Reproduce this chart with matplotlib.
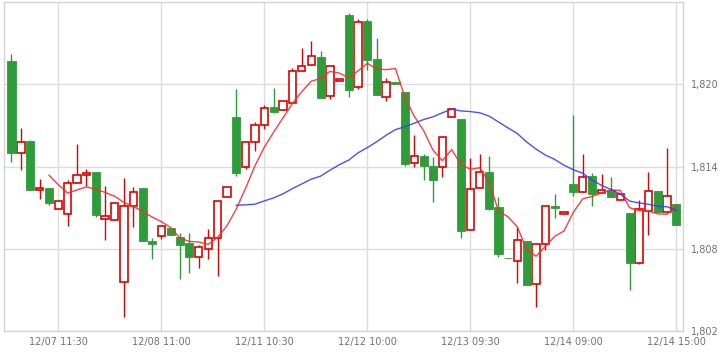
import numpy as np
import pandas as pd
import matplotlib
matplotlib.use("Agg")
import matplotlib.pyplot as plt
from matplotlib.ticker import FuncFormatter

# OHLC (72 bars)
opens = [1821.70, 1814.95, 1815.85, 1812.30, 1812.41, 1810.93, 1810.56, 1812.83, 1813.41, 1813.58,
         1810.20, 1810.12, 1805.59, 1811.15, 1812.41, 1808.59, 1808.95, 1809.49, 1808.83, 1808.39,
         1807.41, 1808.00, 1808.80, 1811.80, 1817.61, 1813.93, 1815.76, 1817.00, 1818.34, 1818.10,
         1818.61, 1820.95, 1821.39, 1822.00, 1819.12, 1820.22, 1825.07, 1819.78, 1824.63, 1821.85,
         1819.05, 1820.17, 1819.44, 1814.26, 1814.75, 1814.02, 1814.00, 1817.59, 1817.46, 1809.39,
         1812.46, 1813.58, 1811.02, 1807.35, 1807.12, 1808.53, 1805.44, 1808.37, 1811.10, 1810.50,
         1812.70, 1812.17, 1813.29, 1812.10, 1812.32, 1811.53, 1810.58, 1806.95, 1810.78, 1812.19,
         1810.71, 1811.24]
highs = [1822.20, 1816.78, 1815.90, 1813.12, 1812.41, 1811.51, 1813.05, 1815.61, 1813.85, 1813.58,
         1812.56, 1811.37, 1813.17, 1812.54, 1812.46, 1808.80, 1809.68, 1809.49, 1809.17, 1809.12,
         1808.26, 1809.41, 1811.51, 1812.51, 1819.63, 1815.76, 1817.24, 1818.46, 1819.71, 1818.76,
         1821.17, 1822.63, 1823.15, 1822.44, 1821.32, 1820.39, 1825.20, 1824.78, 1824.78, 1823.37,
         1820.44, 1820.17, 1819.44, 1816.27, 1814.88, 1814.70, 1816.14, 1818.19, 1817.46, 1814.61,
         1814.88, 1814.80, 1811.80, 1807.35, 1809.61, 1808.53, 1808.37, 1811.15, 1812.02, 1810.65,
         1817.73, 1814.90, 1813.53, 1813.44, 1813.27, 1811.97, 1810.58, 1811.59, 1813.58, 1812.19,
         1815.32, 1811.24]
lows = [1814.34, 1813.73, 1812.25, 1811.66, 1811.19, 1810.93, 1809.68, 1812.83, 1812.56, 1810.31,
        1808.66, 1810.12, 1803.05, 1809.58, 1808.56, 1807.27, 1808.73, 1809.00, 1805.80, 1806.21,
        1806.61, 1807.24, 1806.02, 1811.80, 1813.29, 1813.82, 1815.12, 1816.75, 1817.88, 1818.10,
        1818.61, 1820.95, 1821.39, 1819.02, 1818.95, 1820.22, 1819.05, 1819.68, 1821.05, 1819.24,
        1818.78, 1820.00, 1814.04, 1813.93, 1813.05, 1811.44, 1813.20, 1817.59, 1808.80, 1809.39,
        1812.46, 1810.80, 1807.39, 1807.30, 1805.50, 1805.34, 1803.78, 1807.93, 1810.27, 1810.50,
        1811.86, 1812.17, 1811.12, 1812.10, 1811.78, 1811.53, 1805.00, 1806.87, 1809.02, 1810.66,
        1810.71, 1809.73]
closes = [1815.00, 1815.76, 1812.29, 1812.42, 1811.34, 1811.51, 1812.76, 1813.41, 1813.56, 1810.46,
          1810.36, 1811.37, 1811.15, 1812.17, 1808.56, 1808.34, 1809.68, 1809.00, 1808.26, 1807.39,
          1808.15, 1808.80, 1811.51, 1812.51, 1813.53, 1815.76, 1817.00, 1818.27, 1818.00, 1818.76,
          1820.97, 1821.32, 1822.05, 1819.02, 1821.32, 1820.39, 1819.60, 1824.54, 1821.80, 1819.24,
          1820.15, 1820.00, 1814.19, 1814.75, 1814.04, 1813.02, 1816.14, 1818.19, 1809.29, 1812.34,
          1813.58, 1810.90, 1807.60, 1807.30, 1808.66, 1805.34, 1808.37, 1811.15, 1811.00, 1810.65,
          1812.16, 1813.27, 1812.00, 1812.27, 1811.78, 1811.97, 1806.95, 1810.93, 1812.19, 1810.66,
          1811.88, 1809.73]

tick_pos = [5, 16, 27, 38, 49, 60, 71]
tick_labels = ["12/07 11:30", "12/08 11:00", "12/11 10:30", "12/12 10:00",
               "12/13 09:30", "12/14 09:00", "12/14 15:00"]
y_ticks = [1802, 1808, 1814, 1820]

UP = "#e00000"
DOWN = "#2f9c3a"

df = pd.DataFrame({"open": opens, "high": highs, "low": lows, "close": closes})
x = np.arange(len(df))
ma5 = df["close"].rolling(5).mean()
ma25 = df["close"].rolling(25).mean()

fig = plt.figure(figsize=(7.22, 3.53), dpi=100)
ax = fig.add_axes([4 / 722, 22 / 353, 679 / 722, 329 / 353])

up = df["close"] >= df["open"]
w = 0.86

# wicks
ax.vlines(x[up], df["low"][up], df["high"][up], color=UP, lw=1, zorder=2)
ax.vlines(x[~up], df["low"][~up], df["high"][~up], color=DOWN, lw=1, zorder=2)

# bodies
bot = np.minimum(df["open"], df["close"])
hgt = np.abs(df["close"] - df["open"])
ax.bar(x[up], hgt[up], bottom=bot[up], width=w - 0.08, facecolor="white",
       edgecolor=UP, linewidth=1.2, zorder=3)
ax.bar(x[~up], hgt[~up], bottom=bot[~up], width=w, facecolor=DOWN,
       edgecolor=DOWN, linewidth=0.6, zorder=3)

# moving averages
ax.plot(x, ma5, color="#ff2a2a", lw=1, alpha=0.9, zorder=4)
ax.plot(x, ma25, color="#3a3aff", lw=1, alpha=0.9, zorder=4)

ax.set_xlim(-0.8, 71.7)
ax.set_ylim(1802, 1826)

ax.set_xticks(tick_pos)
ax.set_xticklabels(tick_labels)
ax.set_yticks(y_ticks)
ax.yaxis.set_major_formatter(FuncFormatter(lambda v, p: f"{v:,.0f}"))
ax.yaxis.tick_right()
ax.tick_params(axis="both", length=0, labelsize=7, colors="#707078")
ax.tick_params(axis="y", pad=6)
ax.tick_params(axis="x", pad=4)

ax.grid(True, color="#dcdcdc", lw=1, zorder=0)
ax.set_axisbelow(True)
for s in ax.spines.values():
    s.set_color("#d4d4d4")
    s.set_linewidth(1)

fig.savefig("out.png", dpi=100)
